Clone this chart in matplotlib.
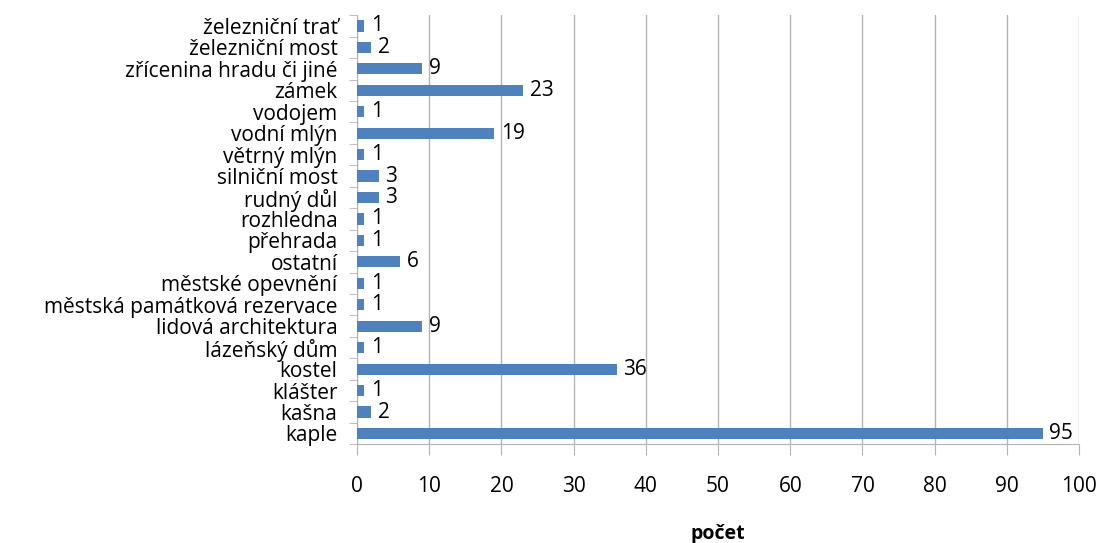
import numpy as np
import matplotlib
matplotlib.use("Agg")
import matplotlib.pyplot as plt
from matplotlib.ticker import FixedLocator

categories = ["kaple", "kašna", "klášter", "kostel", "lázeňský dům",
              "lidová architektura", "městská památková rezervace",
              "městské opevnění", "ostatní", "přehrada", "rozhledna",
              "rudný důl", "silniční most", "větrný mlýn", "vodní mlýn",
              "vodojem", "zámek", "zřícenina hradu či jiné",
              "železniční most", "železniční trať"]
counts = [95, 2, 1, 36, 1, 9, 1, 1, 6, 1, 1, 3, 3, 1, 19, 1, 23, 9, 2, 1]

bar_color = "#4F81BD"
grid_color = "#B3B3B3"
fs = 15
plt.rcParams['font.family'] = ['Open Sans', 'DejaVu Sans']

fig = plt.figure(figsize=(11.03, 5.43), dpi=100)
ax = fig.add_axes([0.3237, 0.182, 0.6546, 0.790])

y = np.arange(len(categories))
ax.barh(y, counts, height=0.52, color=bar_color, zorder=3)
for yi, v in zip(y, counts):
    ax.text(v + 0.9, yi, str(v), va="center", ha="left", fontsize=fs, zorder=4)

ax.set_xlim(0, 100)
ax.set_ylim(-0.5, len(categories) - 0.5)
ax.set_xticks(np.arange(0, 101, 10))
ax.set_yticks(y)
ax.set_yticklabels(categories)
ax.yaxis.set_minor_locator(FixedLocator(np.arange(-0.5, len(categories), 1)))
ax.tick_params(axis="y", which="major", length=0, pad=14, labelsize=fs)
ax.tick_params(axis="y", which="minor", length=6, color=grid_color)
ax.tick_params(axis="x", length=8, color=grid_color, pad=15, labelsize=fs)
ax.grid(axis="x", color=grid_color, linewidth=1, zorder=0)

for s in ["top", "right"]:
    ax.spines[s].set_visible(False)
for s in ["left", "bottom"]:
    ax.spines[s].set_color(grid_color)

ax.set_xlabel("počet", fontsize=14, fontweight="bold", labelpad=19)

fig.savefig("out.png", dpi=100)
